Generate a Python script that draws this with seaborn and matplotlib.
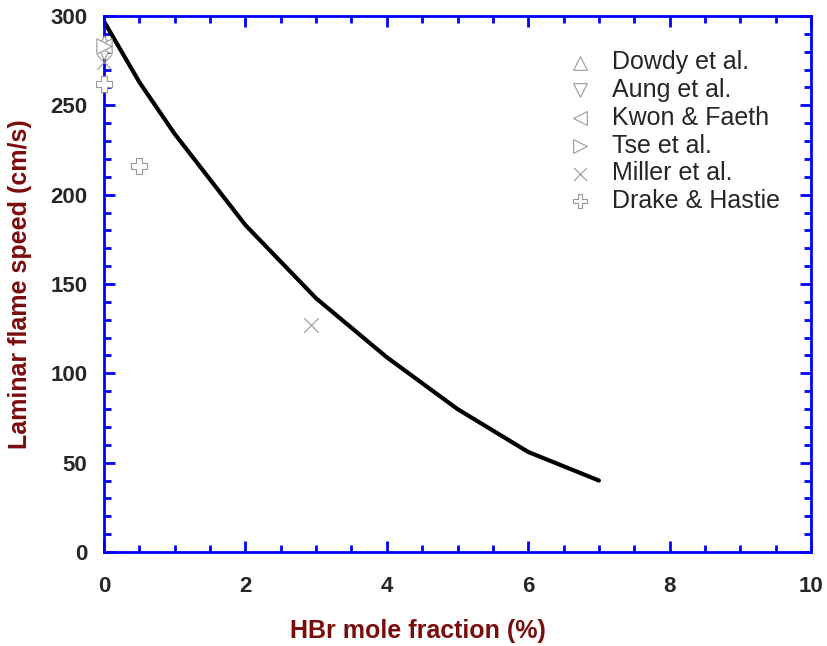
import numpy as np
import pandas as pd
import matplotlib
matplotlib.use("Agg")
import matplotlib.pyplot as plt
from matplotlib.ticker import MultipleLocator
import seaborn as sns

# model curve
hbr_model = [0, 0.5, 1, 2, 3, 4, 5, 6, 7]
speed_model = [297, 263, 234, 183, 142, 109, 80, 56, 40]

# experimental data
studies = ["Dowdy et al.", "Aung et al.", "Kwon & Faeth", "Tse et al.", "Miller et al.", "Drake & Hastie"]
exp_x = {
    "Dowdy et al.": [0.0],
    "Aung et al.": [0.0],
    "Kwon & Faeth": [0.0],
    "Tse et al.": [0.0],
    "Miller et al.": [0.0, 2.93],
    "Drake & Hastie": [0.0, 0.5],
}
exp_y = {
    "Dowdy et al.": [285],
    "Aung et al.": [280],
    "Kwon & Faeth": [283],
    "Tse et al.": [283],
    "Miller et al.": [274, 127],
    "Drake & Hastie": [262, 216],
}
markers = {"Dowdy et al.": "^", "Aung et al.": "v", "Kwon & Faeth": "<",
           "Tse et al.": ">", "Miller et al.": "x", "Drake & Hastie": "P"}

sns.set_style("white")
plt.rcParams["font.family"] = ["Liberation Sans", "DejaVu Sans"]

fig = plt.figure(figsize=(8.28, 6.46), dpi=100)
ax = fig.add_axes([0.1256, 0.1455, 0.8539, 0.8297])

line_df = pd.DataFrame({"x": hbr_model, "y": speed_model})
sns.lineplot(data=line_df, x="x", y="y", color="black", linewidth=3, ax=ax, legend=False)

rows = []
for s in studies:
    for xv, yv in zip(exp_x[s], exp_y[s]):
        rows.append({"x": xv, "y": yv, "study": s})
exp_df = pd.DataFrame(rows)

grey = "#9a9a9a"
for s in studies:
    d = exp_df[exp_df["study"] == s]
    m = markers[s]
    if m == "x":
        sns.scatterplot(data=d, x="x", y="y", marker=m, s=110, color=grey,
                        linewidth=0.8, ax=ax, label=s, zorder=3, clip_on=False)
    else:
        sns.scatterplot(data=d, x="x", y="y", marker=m, s=120, facecolor="white",
                        edgecolor=grey, linewidth=0.8, ax=ax, label=s, zorder=3, clip_on=False)

ax.set_xlim(0, 10)
ax.set_ylim(0, 300)
ax.xaxis.set_major_locator(MultipleLocator(2))
ax.xaxis.set_minor_locator(MultipleLocator(0.5))
ax.yaxis.set_major_locator(MultipleLocator(50))
ax.yaxis.set_minor_locator(MultipleLocator(10))

for sp in ax.spines.values():
    sp.set_color("#0000ff")
    sp.set_linewidth(2)

ax.tick_params(which="both", direction="in", color="#0000ff", top=True, right=True,
               bottom=True, left=True)
ax.tick_params(which="major", length=8, width=2, labelsize=16)
ax.tick_params(which="minor", length=5, width=2)
ax.tick_params(axis="x", which="major", pad=17)
ax.tick_params(axis="y", which="major", pad=12)
for lab in ax.get_xticklabels() + ax.get_yticklabels():
    lab.set_fontweight("bold")

ax.set_xlabel("HBr mole fraction (%)", fontsize=18, fontweight="bold", color="#7b0c0c", labelpad=16)
ax.set_ylabel("Laminar flame speed (cm/s)", fontsize=18, fontweight="bold", color="#7b0c0c", labelpad=13)
ax.xaxis.label.set_x(0.444)

leg = ax.legend(loc="upper right", bbox_to_anchor=(0.988, 0.978), frameon=False, fontsize=18,
                handletextpad=0.7, labelspacing=0.15, handlelength=1.2, markerscale=0.9)

fig.savefig("out.png", dpi=100)
